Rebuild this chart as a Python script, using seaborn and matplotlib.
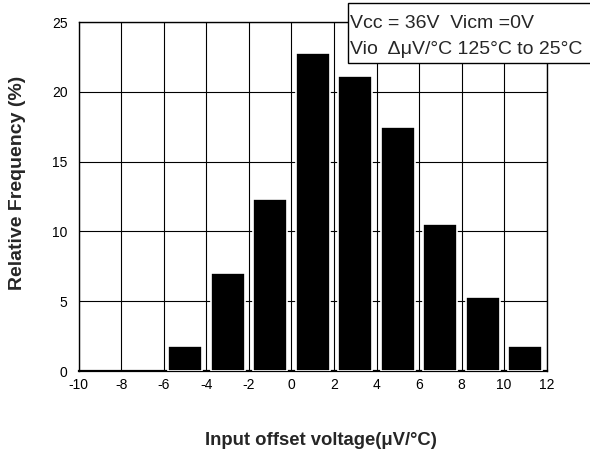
import matplotlib
matplotlib.use("Agg")
import matplotlib.pyplot as plt
from matplotlib.patches import Rectangle
import seaborn as sns
import pandas as pd

# --------------------------
# Data
# --------------------------
bin_centers = [-5, -3, -1, 1, 3, 5, 7, 9, 11]
rel_freq = [1.8, 7.0, 12.3, 22.8, 21.1, 17.5, 10.5, 5.3, 1.8]
x_ticks = list(range(-10, 13, 2))
y_ticks = [0, 5, 10, 15, 20, 25]

df = pd.DataFrame({"center": bin_centers, "freq": rel_freq})

sns.set_style("white")
plt.rcParams["font.family"] = ["Liberation Sans", "DejaVu Sans"]
plt.rcParams["axes.unicode_minus"] = False

fig = plt.figure(figsize=(5.9, 4.53), dpi=100)
ax = fig.add_axes([0.1334, 0.181, 0.7932, 0.7704])

sns.barplot(data=df, x="center", y="freq", native_scale=True, width=0.8,
            color="black", edgecolor="white", linewidth=1.2, saturation=1,
            ax=ax, zorder=3)

ax.set_xlim(-10, 12)
ax.set_ylim(0, 25)
ax.set_xticks(x_ticks)
ax.set_yticks(y_ticks)
ax.tick_params(axis="both", length=0, labelsize=10, colors="black")
ax.tick_params(axis="x", pad=5)
ax.tick_params(axis="y", pad=8)
ax.grid(True, color="black", linewidth=0.8, zorder=0)
ax.set_axisbelow(True)
for s in ax.spines.values():
    s.set_color("black")
    s.set_linewidth(1.0)
ax.spines["bottom"].set_linewidth(1.6)

ax.set_xlabel("Input offset voltage(μV/°C)", fontsize=13.3, fontweight="bold")
ax.set_ylabel("Relative Frequency (%)", fontsize=14, fontweight="bold")
ax.xaxis.set_label_coords(0.518, -0.175)
ax.yaxis.set_label_coords(-0.113, 0.54)

# condition box in the upper right corner (runs off the right edge)
fig.add_artist(Rectangle((0.5898, 0.861), 0.45, 0.132, transform=fig.transFigure,
                         facecolor="white", edgecolor="black", linewidth=1, zorder=5))
fig.text(0.594, 0.966, "Vcc = 36V  Vicm =0V\nVio  ΔμV/°C 125°C to 25°C",
         fontsize=14, ha="left", va="top", linespacing=1.65, zorder=6)

fig.savefig("out.png", dpi=100)
